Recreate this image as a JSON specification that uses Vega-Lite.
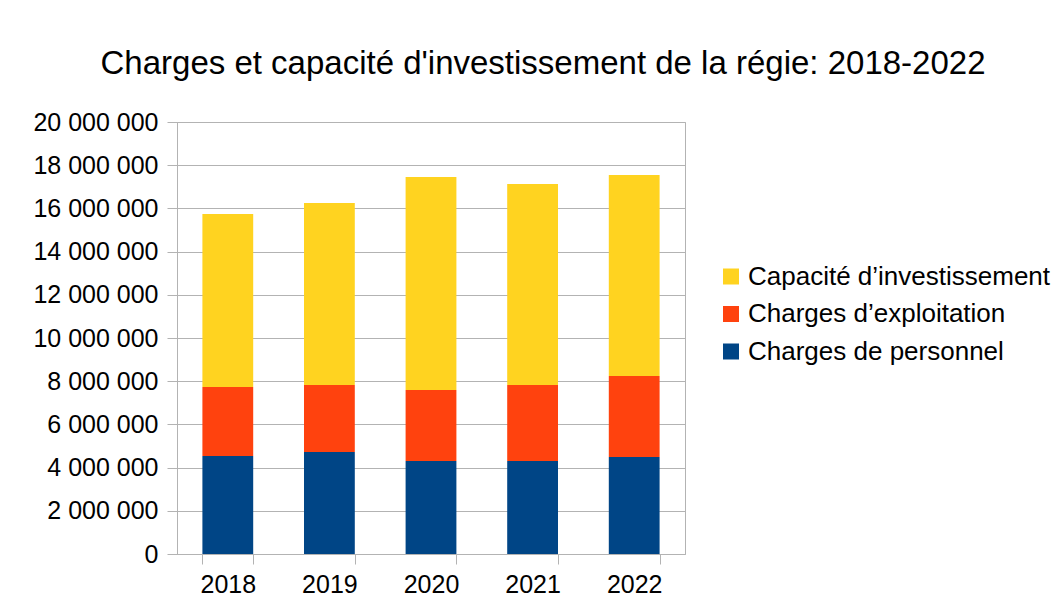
{
  "$schema": "https://vega.github.io/schema/vega-lite/v6.json",
  "autosize": "none",
  "width": 508,
  "height": 432,
  "padding": {"left": 177, "top": 122, "right": 377, "bottom": 51},
  "background": "white",
  "title": {
    "text": "Charges et capacité d'investissement de la régie: 2018-2022",
    "font": "Liberation Sans",
    "fontSize": 33,
    "fontWeight": "normal",
    "color": "#000000",
    "anchor": "middle",
    "dx": 112,
    "baseline": "alphabetic",
    "offset": 3
  },
  "data": {
    "values": [
      {"annee": "2018", "serie": "Charges de personnel", "rang": 1, "montant": 4540000},
      {"annee": "2018", "serie": "Charges d’exploitation", "rang": 2, "montant": 3190000},
      {"annee": "2018", "serie": "Capacité d’investissement", "rang": 3, "montant": 8010000},
      {"annee": "2019", "serie": "Charges de personnel", "rang": 1, "montant": 4720000},
      {"annee": "2019", "serie": "Charges d’exploitation", "rang": 2, "montant": 3100000},
      {"annee": "2019", "serie": "Capacité d’investissement", "rang": 3, "montant": 8430000},
      {"annee": "2020", "serie": "Charges de personnel", "rang": 1, "montant": 4310000},
      {"annee": "2020", "serie": "Charges d’exploitation", "rang": 2, "montant": 3280000},
      {"annee": "2020", "serie": "Capacité d’investissement", "rang": 3, "montant": 9860000},
      {"annee": "2021", "serie": "Charges de personnel", "rang": 1, "montant": 4310000},
      {"annee": "2021", "serie": "Charges d’exploitation", "rang": 2, "montant": 3510000},
      {"annee": "2021", "serie": "Capacité d’investissement", "rang": 3, "montant": 9310000},
      {"annee": "2022", "serie": "Charges de personnel", "rang": 1, "montant": 4490000},
      {"annee": "2022", "serie": "Charges d’exploitation", "rang": 2, "montant": 3750000},
      {"annee": "2022", "serie": "Capacité d’investissement", "rang": 3, "montant": 9310000}
    ]
  },
  "mark": {"type": "bar"},
  "encoding": {
    "x": {
      "field": "annee",
      "type": "nominal",
      "title": null,
      "scale": {"paddingInner": 0.5, "paddingOuter": 0.25},
      "axis": {
        "labelAngle": 0,
        "labelFont": "Liberation Sans",
        "labelFontSize": 25,
        "labelColor": "#000000",
        "labelPadding": 8,
        "tickBand": "extent",
        "tickSize": 10,
        "tickColor": "#b3b3b3",
        "domainColor": "#b3b3b3",
        "grid": false
      }
    },
    "y": {
      "field": "montant",
      "type": "quantitative",
      "stack": "zero",
      "title": null,
      "scale": {"domain": [0, 20000000], "nice": false},
      "axis": {
        "values": [0, 2000000, 4000000, 6000000, 8000000, 10000000, 12000000, 14000000, 16000000, 18000000, 20000000],
        "format": ",.0f",
        "labelFont": "Liberation Sans",
        "labelFontSize": 25,
        "labelColor": "#000000",
        "labelPadding": 9,
        "tickSize": 10,
        "tickColor": "#b3b3b3",
        "domainColor": "#b3b3b3",
        "gridColor": "#b3b3b3",
        "grid": true
      }
    },
    "color": {
      "field": "serie",
      "type": "nominal",
      "scale": {
        "domain": ["Capacité d’investissement", "Charges d’exploitation", "Charges de personnel"],
        "range": ["#ffd320", "#ff420e", "#004586"]
      },
      "legend": {
        "title": null,
        "orient": "none",
        "legendX": 541,
        "legendY": 141.5,
        "padding": 0,
        "symbolType": "square",
        "symbolSize": 256,
        "symbolStrokeWidth": 0,
        "symbolOpacity": 1,
        "labelFont": "Liberation Sans",
        "labelFontSize": 26,
        "labelColor": "#000000",
        "labelOffset": 4,
        "labelLimit": 400,
        "rowPadding": 11.5
      }
    },
    "order": {"field": "rang", "type": "quantitative"}
  },
  "config": {
    "locale": {
      "number": {"decimal": ",", "thousands": " ", "grouping": [3], "currency": ["", " €"]}
    },
    "view": {"stroke": "#b3b3b3"},
    "axis": {"labelFont": "Liberation Sans"}
  }
}
